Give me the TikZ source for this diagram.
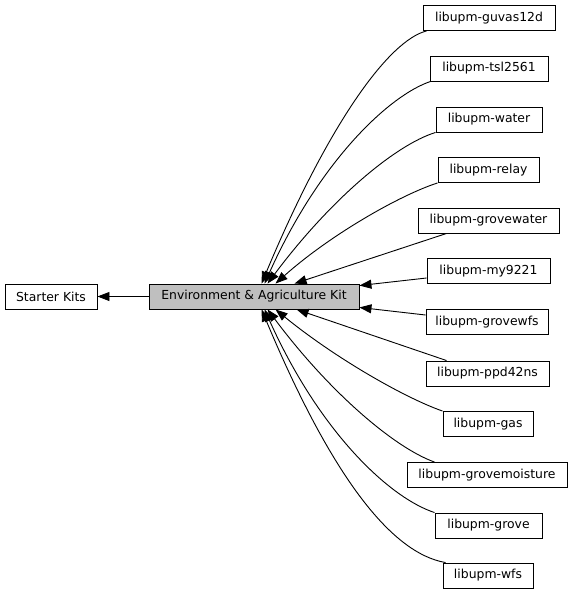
\documentclass[tikz,border=0pt]{standalone}
\usepackage{fontspec}
\setmainfont{DejaVu Sans}
\usetikzlibrary{arrows.meta,calc}
\definecolor{envgray}{RGB}{191,191,191}
\begin{document}
\begin{tikzpicture}[x=1pt,y=-1pt,
  box/.style={draw=black,line width=0.9pt,minimum height=25pt,inner sep=0pt,font=\fontsize{12.4}{14}\selectfont,fill=white},
  edge/.style={draw=black,line width=0.9pt,-{Triangle[length=12pt,width=9pt]}}]
\useasboundingbox (0,0) rectangle (576,595);
\node[box,minimum width=92pt] (starter) at (51,296.5) {Starter Kits};
\node[box,minimum width=210pt,fill=envgray] (env) at (254,296.5) {Environment \& Agriculture Kit};
\node[box,minimum width=132pt] (guvas) at (489,18) {libupm-guvas12d};
\node[box,minimum width=118pt] (tsl) at (489,68.5) {libupm-tsl2561};
\node[box,minimum width=106pt] (water) at (489,119.5) {libupm-water};
\node[box,minimum width=101pt] (relay) at (488.5,170) {libupm-relay};
\node[box,minimum width=141pt] (grovewater) at (488.5,220.5) {libupm-grovewater};
\node[box,minimum width=123pt] (my) at (488.5,271) {libupm-my9221};
\node[box,minimum width=122pt] (grovewfs) at (487,322) {libupm-grovewfs};
\node[box,minimum width=123pt] (ppd) at (487.5,373.5) {libupm-ppd42ns};
\node[box,minimum width=90pt] (gas) at (488,424) {libupm-gas};
\node[box,minimum width=160pt] (moist) at (487,475) {libupm-grovemoisture};
\node[box,minimum width=107pt] (grove) at (488.5,525.5) {libupm-grove};
\node[box,minimum width=90pt] (wfs) at (488,575.5) {libupm-wfs};
% edges
\draw[edge] (env.west) -- (starter.east);
\draw[edge] ([xshift=4pt]guvas.south west) .. controls (390,40) and (330,120) .. ([xshift=113pt]env.north west);
\draw[edge] ([xshift=1pt]tsl.south west) .. controls (390,95) and (320,160) .. ([xshift=116pt]env.north west);
\draw[edge] (water.south west) .. controls (395,145) and (330,200) .. ([xshift=119pt]env.north west);
\draw[edge] (relay.south west) .. controls (400,195) and (330,235) .. ([xshift=127pt]env.north west);
\draw[edge] ([xshift=29pt]grovewater.south west) -- ([xshift=146pt]env.north west);
\draw[edge] ([yshift=-7pt]my.west) -- ([yshift=-2pt]env.north east);
\draw[edge] ([yshift=7pt]grovewfs.west) -- ([yshift=2pt]env.south east);
\draw[edge] ([xshift=21pt]ppd.north west) -- ([xshift=148pt]env.south west);
\draw[edge] (gas.north west) .. controls (405,398) and (335,358) .. ([xshift=127pt]env.south west);
\draw[edge] ([xshift=28pt]moist.north west) .. controls (395,448) and (330,393) .. ([xshift=119pt]env.south west);
\draw[edge] (grove.north west) .. controls (390,498) and (320,433) .. ([xshift=116pt]env.south west);
\draw[edge] ([xshift=3pt]wfs.north west) .. controls (390,553) and (330,473) .. ([xshift=113pt]env.south west);
\end{tikzpicture}
\end{document}
